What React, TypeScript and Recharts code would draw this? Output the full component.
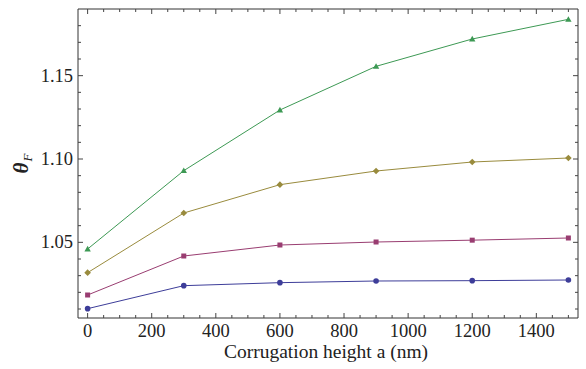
import React from 'react';
import { LineChart, Line, XAxis, YAxis } from 'recharts';

const corrugationHeights = [0, 300, 600, 900, 1200, 1500];
const seriesBlue = [1.0102, 1.024, 1.0258, 1.0268, 1.027, 1.0274];
const seriesMagenta = [1.0184, 1.0418, 1.0484, 1.0502, 1.0513, 1.0526];
const seriesGold = [1.0318, 1.0676, 1.0846, 1.0928, 1.0982, 1.1006];
const seriesGreen = [1.046, 1.093, 1.1294, 1.1556, 1.172, 1.1838];

const xTicks = [0, 50, 100, 150, 200, 250, 300, 350, 400, 450, 500, 550, 600, 650, 700, 750, 800, 850, 900, 950, 1000, 1050, 1100, 1150, 1200, 1250, 1300, 1350, 1400, 1450, 1500];
const xMajorTicks = [0, 200, 400, 600, 800, 1000, 1200, 1400];
const yTicks = [1.01, 1.02, 1.03, 1.04, 1.05, 1.06, 1.07, 1.08, 1.09, 1.1, 1.11, 1.12, 1.13, 1.14, 1.15, 1.16, 1.17, 1.18];
const yMajorTicks = [1.05, 1.1, 1.15];

const xDomain = [-30, 1530];
const yDomain = [1.0046, 1.19];

const data = corrugationHeights.map((x, i) => ({
  x,
  blue: seriesBlue[i],
  magenta: seriesMagenta[i],
  gold: seriesGold[i],
  green: seriesGreen[i],
}));

const FONT = '"Liberation Serif", "Times New Roman", serif';
const TICK_COLOR = '#444';
const TEXT_COLOR = '#222';
const FRAME = '#333';

const isXMajor = (v: number) => xMajorTicks.includes(v);
const isYMajor = (v: number) => yMajorTicks.some((m) => Math.abs(m - v) < 1e-6);

const BottomTick = (props: any) => {
  const { x, y, payload } = props;
  const major = isXMajor(payload.value);
  return (
    <g>
      <line x1={x} x2={x} y1={y} y2={y - (major ? 5 : 3)} stroke={TICK_COLOR} strokeWidth={1} />
      {major && (
        <text x={x} y={y + 19} textAnchor="middle" fontFamily={FONT} fontSize={18.5} fill={TEXT_COLOR}>
          {payload.value}
        </text>
      )}
    </g>
  );
};

const TopTick = (props: any) => {
  const { x, y, payload } = props;
  const major = isXMajor(payload.value);
  return <line x1={x} x2={x} y1={y} y2={y + (major ? 5 : 3)} stroke={TICK_COLOR} strokeWidth={1} />;
};

const LeftTick = (props: any) => {
  const { x, y, payload } = props;
  const major = isYMajor(payload.value);
  return (
    <g>
      <line x1={x} x2={x + (major ? 5 : 3)} y1={y} y2={y} stroke={TICK_COLOR} strokeWidth={1} />
      {major && (
        <text x={x - 5} y={y + 6} textAnchor="end" fontFamily={FONT} fontSize={18.5} fill={TEXT_COLOR}>
          {Number(payload.value).toFixed(2)}
        </text>
      )}
    </g>
  );
};

const RightTick = (props: any) => {
  const { x, y, payload } = props;
  const major = isYMajor(payload.value);
  return <line x1={x} x2={x - (major ? 5 : 3)} y1={y} y2={y} stroke={TICK_COLOR} strokeWidth={1} />;
};

const YLabel = (props: any) => {
  const vb = props.viewBox || {};
  const cx = vb.x + 28;
  const cy = vb.y + vb.height / 2;
  return (
    <text
      x={cx}
      y={cy}
      transform={`rotate(-90, ${cx}, ${cy})`}
      textAnchor="middle"
      fontFamily={FONT}
      fill={TEXT_COLOR}
    >
      <tspan fontSize={21} fontWeight="bold" fontStyle="italic">θ</tspan>
      <tspan fontSize={13} fontStyle="italic" dy={4} dx={1}>F</tspan>
    </text>
  );
};

const XLabel = (props: any) => {
  const vb = props.viewBox || {};
  return (
    <text
      x={vb.x + vb.width / 2 - 2}
      y={vb.y + 40}
      textAnchor="middle"
      fontFamily={FONT}
      fontSize={19.5}
      fill={TEXT_COLOR}
    >
      Corrugation height a (nm)
    </text>
  );
};

const CircleDot = (color: string) => (props: any) => {
  const { cx, cy, index } = props;
  return <circle key={`c${index}`} cx={cx} cy={cy} r={2.8} fill={color} />;
};
const SquareDot = (color: string) => (props: any) => {
  const { cx, cy, index } = props;
  const s = 5;
  return <rect key={`s${index}`} x={cx - s / 2} y={cy - s / 2} width={s} height={s} fill={color} />;
};
const DiamondDot = (color: string) => (props: any) => {
  const { cx, cy, index } = props;
  const s = 3.3;
  return (
    <polygon
      key={`d${index}`}
      points={`${cx},${cy - s} ${cx + s},${cy} ${cx},${cy + s} ${cx - s},${cy}`}
      fill={color}
    />
  );
};
const TriangleDot = (color: string) => (props: any) => {
  const { cx, cy, index } = props;
  const s = 3.2;
  return (
    <polygon
      key={`t${index}`}
      points={`${cx},${cy - s} ${cx + s},${cy + s * 0.75} ${cx - s},${cy + s * 0.75}`}
      fill={color}
    />
  );
};

const BLUE = '#3d3d99';
const MAGENTA = '#993d71';
const GOLD = '#998b3d';
const GREEN = '#3d9954';

export default function App() {
  return (
    <div style={{ position: 'absolute', left: 0, top: 0 }}>
      <LineChart width={586} height={369} data={data} margin={{ top: 0, right: 0, bottom: 0, left: 0 }}>
        <XAxis
          dataKey="x"
          type="number"
          domain={xDomain}
          ticks={xTicks}
          interval={0}
          height={51}
          tickSize={0}
          tickMargin={0}
          tickLine={false}
          tick={BottomTick}
          axisLine={{ stroke: FRAME, strokeWidth: 1 }}
          allowDataOverflow
          label={{ content: XLabel }}
        />
        <XAxis
          xAxisId="top"
          orientation="top"
          dataKey="x"
          type="number"
          domain={xDomain}
          ticks={xTicks}
          interval={0}
          height={9}
          tickSize={0}
          tickMargin={0}
          tickLine={false}
          tick={TopTick}
          axisLine={{ stroke: FRAME, strokeWidth: 1 }}
          allowDataOverflow
        />
        <YAxis
          type="number"
          domain={yDomain}
          ticks={yTicks}
          interval={0}
          width={78}
          tickSize={0}
          tickMargin={0}
          tickLine={false}
          tick={LeftTick}
          axisLine={{ stroke: FRAME, strokeWidth: 1 }}
          allowDataOverflow
          label={{ content: YLabel }}
        />
        <YAxis
          yAxisId="right"
          orientation="right"
          type="number"
          domain={yDomain}
          ticks={yTicks}
          interval={0}
          width={8}
          tickSize={0}
          tickMargin={0}
          tickLine={false}
          tick={RightTick}
          axisLine={{ stroke: FRAME, strokeWidth: 1 }}
          allowDataOverflow
        />
        <Line dataKey="blue" type="linear" stroke={BLUE} strokeWidth={1} dot={CircleDot(BLUE)} activeDot={false} isAnimationActive={false} />
        <Line dataKey="magenta" type="linear" stroke={MAGENTA} strokeWidth={1} dot={SquareDot(MAGENTA)} activeDot={false} isAnimationActive={false} />
        <Line dataKey="gold" type="linear" stroke={GOLD} strokeWidth={1} dot={DiamondDot(GOLD)} activeDot={false} isAnimationActive={false} />
        <Line dataKey="green" type="linear" stroke={GREEN} strokeWidth={1} dot={TriangleDot(GREEN)} activeDot={false} isAnimationActive={false} />
      </LineChart>
    </div>
  );
}
